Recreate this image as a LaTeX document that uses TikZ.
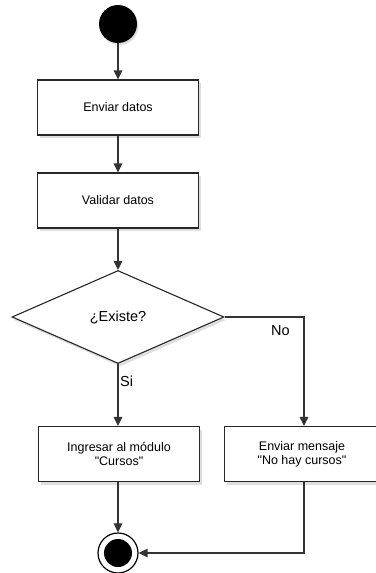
\documentclass[tikz,border=0pt]{standalone}
\usepackage{fontspec}
\setmainfont{Liberation Sans}
\usetikzlibrary{arrows.meta,shadows,shapes.geometric}
\tikzset{
  box/.style={draw=black!85, line width=1.1pt, fill=white, minimum width=161pt, minimum height=55pt, align=center, font=\fontsize{12.5}{14}\selectfont, inner sep=0pt,
    drop shadow={opacity=0.25, shadow xshift=2pt, shadow yshift=-3pt}},
  dec/.style={draw=black!85, line width=1.1pt, fill=white, diamond, aspect=2.28, minimum width=212pt, minimum height=93pt, inner sep=0pt, font=\fontsize{14.5}{16}\selectfont,
    drop shadow={opacity=0.25, shadow xshift=2pt, shadow yshift=-3pt}},
  conn/.style={draw=black!80, line width=1.1pt, -{Triangle[length=9pt,width=8.5pt]}},
  lbl/.style={font=\fontsize{14.5}{16}\selectfont, inner sep=0pt},
}
\begin{document}
\begin{tikzpicture}[x=1pt,y=-1pt]
\useasboundingbox (0,0) rectangle (375,573);
\node[circle, fill=black, minimum size=38pt, inner sep=0pt, drop shadow={opacity=0.25, shadow xshift=1.5pt, shadow yshift=-2pt}] (start) at (118,24) {};
\node[box] (enviar) at (118,107.5) {Enviar datos};
\node[box] (validar) at (118,200.5) {Validar datos};
\node[dec] (existe) at (118,317) {¿Existe?};
\node[box] (ingresar) at (119,454) {Ingresar al módulo\\\textquotedbl Cursos\textquotedbl};
\node[box, minimum width=155pt] (mensaje) at (302,454) {Enviar mensaje\\\textquotedbl No hay cursos\textquotedbl};
\node[circle, draw=black, line width=1.2pt, fill=white, minimum size=40pt, inner sep=0pt] (fin) at (118,553) {};
\node[circle, fill=black, minimum size=28pt, inner sep=0pt] at (fin) {};
\coordinate (nocorner) at (304,317);
\coordinate (fincorner) at (304,553);
\draw[conn] (start) -- (enviar);
\draw[conn] (enviar) -- (validar);
\draw[conn] (validar) -- (existe);
\draw[conn] (existe.south) -- (existe.south |- ingresar.north);
\draw[conn] (existe.east) -- (nocorner) -- (nocorner |- mensaje.north);
\draw[conn] (ingresar.south -| fin) -- (fin.north);
\draw[conn] (mensaje.south -| fincorner) -- (fincorner) -- (fin.east);
\node[lbl, anchor=west] at (120,381) {Si};
\node[lbl, anchor=west] at (271,331) {No};
\end{tikzpicture}
\end{document}
